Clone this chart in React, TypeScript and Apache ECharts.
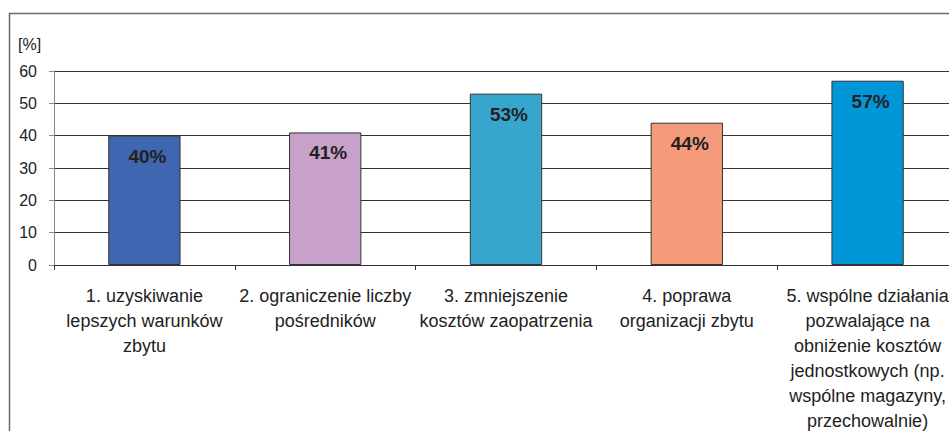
import React, { useEffect, useRef } from "react";
import * as echarts from "echarts";

const categories = [
  "1. uzyskiwanie\nlepszych warunków\nzbytu",
  "2. ograniczenie liczby\npośredników",
  "3. zmniejszenie\nkosztów zaopatrzenia",
  "4. poprawa\norganizacji zbytu",
  "5. wspólne działania\npozwalające na\nobniżenie kosztów\njednostkowych (np.\nwspólne magazyny,\nprzechowalnie)",
];
const values = [40, 41, 53, 44, 57];
const barColors = ["#3F67B1", "#C8A1CB", "#36A6CE", "#F59A7B", "#0096D7"];
const yTicks = { min: 0, max: 60, interval: 10 };
const unitLabel = "[%]";

const FONT = "'Liberation Sans', Arial, sans-serif";

export default function App() {
  const ref = useRef<HTMLDivElement>(null);
  useEffect(() => {
    document.body.style.margin = "0";
    const chart = echarts.init(ref.current!, null, { renderer: "svg" });
    chart.setOption({
      animation: false,
      backgroundColor: "#ffffff",
      textStyle: { fontFamily: FONT },
      grid: {
        left: 54,
        top: 71,
        right: -9,
        bottom: 166,
        containLabel: false,
        outerBoundsMode: "none",
      },
      graphic: [
        {
          type: "rect",
          left: 7,
          top: 11,
          shape: { x: 0, y: 0, width: 980, height: 460 },
          style: { fill: "none", stroke: "#6a6a6a", lineWidth: 1.5 },
          z: 0,
          silent: true,
        },
        {
          type: "text",
          left: 18,
          top: 36,
          style: { text: unitLabel, fontSize: 16, fill: "#222", fontFamily: FONT },
        },
      ],
      xAxis: {
        type: "category",
        data: categories,
        axisLine: { show: true, lineStyle: { color: "#333", width: 1 } },
        axisTick: { show: true, length: 5, lineStyle: { color: "#333" } },
        axisLabel: {
          interval: 0,
          margin: 18,
          fontSize: 18,
          lineHeight: 25,
          color: "#222",
          fontFamily: FONT,
          align: "center",
        },
        splitLine: { show: false },
      },
      yAxis: {
        type: "value",
        min: yTicks.min,
        max: yTicks.max,
        interval: yTicks.interval,
        axisLine: { show: true, lineStyle: { color: "#888", width: 1 } },
        axisTick: { show: true, length: 5, lineStyle: { color: "#888" } },
        axisLabel: { margin: 17, fontSize: 16, color: "#222", fontFamily: FONT },
        splitLine: { show: true, lineStyle: { color: "#333", width: 1 } },
      },
      series: [
        {
          type: "bar",
          barWidth: "40%",
          data: values.map((v, i) => ({
            value: v,
            itemStyle: { color: barColors[i] },
          })),
          itemStyle: { borderColor: "#333", borderWidth: 1 },
          label: {
            show: true,
            position: "insideTop",
            distance: 11,
            offset: [3, 0],
            formatter: "{c}%",
            fontSize: 19,
            fontWeight: "bold",
            color: "#222",
            fontFamily: FONT,
          },
        },
      ],
    });
    return () => chart.dispose();
  }, []);
  return <div ref={ref} style={{ width: 949, height: 431 }} />;
}
